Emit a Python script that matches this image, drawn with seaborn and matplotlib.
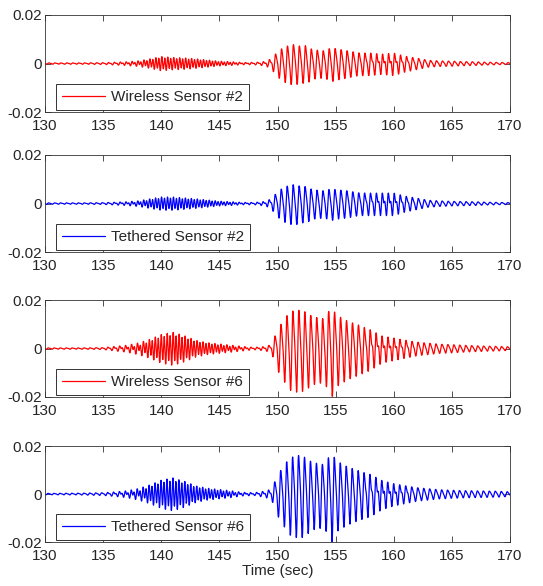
import numpy as np
import pandas as pd
import matplotlib
matplotlib.use("Agg")
import matplotlib.pyplot as plt
import seaborn as sns

# ---- data (envelope amplitudes, in units of 1e-3) ----
time_knots = [130, 133, 135, 136, 137, 138, 139, 140, 141, 142, 143, 144, 145, 146, 147, 148,
              149, 149.5, 150, 150.5, 151, 151.5, 152, 152.5, 153, 154, 154.7, 155, 156, 157,
              158, 159, 160, 161, 162, 163, 164, 165, 166, 167, 168, 169, 170]
env_wireless2 = [0.3, 0.3, 0.4, 0.6, 0.8, 1.2, 2.0, 3.0, 2.6, 2.4, 2.0, 1.5, 1.0, 0.8, 0.5, 0.5,
                 1.0, 2.5, 5.5, 7.5, 8.5, 9.0, 8.0, 8.5, 6.5, 6.0, 7.5, 7.0, 6.0, 5.0,
                 5.0, 4.5, 5.0, 3.5, 2.5, 1.5, 1.2, 1.1, 0.9, 0.8, 0.6, 0.5, 0.4]
env_tethered2 = [0.3, 0.3, 0.4, 0.6, 0.8, 1.2, 2.0, 2.8, 2.8, 2.4, 2.0, 1.5, 1.0, 0.8, 0.5, 0.5,
                 1.0, 2.5, 5.5, 7.5, 8.5, 9.0, 8.0, 8.0, 6.5, 6.0, 7.0, 6.5, 6.0, 5.0,
                 5.0, 5.0, 5.0, 3.5, 2.5, 1.5, 1.2, 1.0, 0.9, 0.8, 0.6, 0.5, 0.4]
env_wireless6 = [0.3, 0.3, 0.4, 1.0, 1.5, 2.5, 4.0, 6.0, 7.0, 5.5, 3.5, 2.5, 2.0, 1.5, 1.0, 0.5,
                 1.0, 2.0, 9.0, 13.0, 17.0, 18.0, 18.0, 17.0, 15.0, 14.0, 20.0, 16.0, 13.0, 11.0,
                 9.0, 6.0, 5.0, 4.0, 3.0, 2.5, 2.0, 1.8, 1.5, 1.3, 1.1, 1.0, 0.8]
env_tethered6 = [0.3, 0.4, 0.6, 1.0, 1.5, 2.5, 4.0, 6.0, 7.0, 5.5, 3.5, 2.5, 2.0, 1.5, 0.8, 0.6,
                 1.5, 2.5, 9.0, 13.0, 17.0, 18.0, 18.5, 17.0, 15.0, 14.0, 20.0, 16.0, 13.0, 11.0,
                 9.5, 6.5, 5.0, 4.0, 3.0, 2.5, 2.0, 1.8, 1.6, 1.5, 1.4, 1.3, 1.0]
# share of the amplitude carried by the faster (~3.9 Hz) component
high_share = [0.3, 0.3, 0.3, 0.4, 0.5, 0.6, 0.8, 0.85, 0.85, 0.85, 0.85, 0.85, 0.8, 0.7, 0.5, 0.4,
              0.4, 0.3, 0.2, 0.2, 0.2, 0.2, 0.2, 0.2, 0.2, 0.2, 0.2, 0.2, 0.2, 0.2,
              0.3, 0.4, 0.4, 0.3, 0.2, 0.2, 0.2, 0.2, 0.2, 0.2, 0.2, 0.2, 0.2]
low_hz, high_hz = 1.95, 3.9
labels = ["Wireless Sensor #2", "Tethered Sensor #2", "Wireless Sensor #6", "Tethered Sensor #6"]
colors = ["#ff0000", "#0000ff", "#ff0000", "#0000ff"]
envelopes = [env_wireless2, env_tethered2, env_wireless6, env_tethered6]
x_ticks = [130, 135, 140, 145, 150, 155, 160, 165, 170]
y_ticks = [-0.02, 0, 0.02]
y_tick_labels = ["-0.02", "0", "0.02"]

sns.set_style("ticks")
plt.rcParams["font.family"] = ["Liberation Sans", "DejaVu Sans"]
plt.rcParams["xtick.direction"] = "in"
plt.rcParams["ytick.direction"] = "in"

fig = plt.figure(figsize=(5.43, 5.86), dpi=100)
W, H = 543.0, 586.0
panels_px = [(15, 112), (155, 252), (300, 397), (446, 542)]
left_px, right_px = 45, 510

t = np.arange(130, 170.0001, 0.01)
share = np.interp(t, time_knots, high_share)
# peak of the two-tone mix for each share value, so the envelope sets the true peak
phase_grid = np.linspace(0, 2 * np.pi, 721)
share_grid = np.linspace(0, 1, 101)
mix_peak = np.array([np.max(np.abs((1 - s) * np.sin(phase_grid) + s * np.sin(2 * phase_grid + 0.4)))
                     for s in share_grid])
norm = np.interp(share, share_grid, mix_peak)

for i, (top, bot) in enumerate(panels_px):
    ax = fig.add_axes([left_px / W, 1 - bot / H, (right_px - left_px) / W, (bot - top) / H])
    env = np.interp(t, time_knots, envelopes[i]) * 1e-3
    y = env * ((1 - share) * np.sin(2 * np.pi * low_hz * t + 0.3 * i)
               + share * np.sin(2 * np.pi * high_hz * t + 0.6 * i + 0.4)) / norm
    df = pd.DataFrame({"time": t, "value": y})
    sns.lineplot(data=df, x="time", y="value", ax=ax, color=colors[i], linewidth=0.9,
                 label=labels[i], estimator=None, sort=False)
    ax.set_xlim(130, 170)
    ax.set_ylim(-0.02, 0.02)
    ax.set_xticks(x_ticks)
    ax.set_xticklabels([str(v) for v in x_ticks])
    ax.set_yticks(y_ticks)
    ax.set_yticklabels(y_tick_labels)
    ax.tick_params(axis="both", labelsize=11, length=4, width=0.6, color="#333333",
                   top=True, right=True)
    ax.tick_params(axis="x", pad=5)
    ax.tick_params(axis="y", pad=2)
    for s in ax.spines.values():
        s.set_visible(True)
        s.set_linewidth(0.6)
        s.set_color("#333333")
    ax.set_ylabel("")
    ax.set_xlabel("Time (sec)" if i == 3 else "", fontsize=11, labelpad=1)
    leg = ax.legend(loc="lower left", bbox_to_anchor=(0.0236, 0.02), fontsize=11,
                    frameon=True, fancybox=False, edgecolor="#333333", framealpha=1,
                    handlelength=2.8, borderpad=0.4, handletextpad=0.4, borderaxespad=0.0)
    leg.get_frame().set_linewidth(0.7)

fig.savefig("out.png", dpi=100)
